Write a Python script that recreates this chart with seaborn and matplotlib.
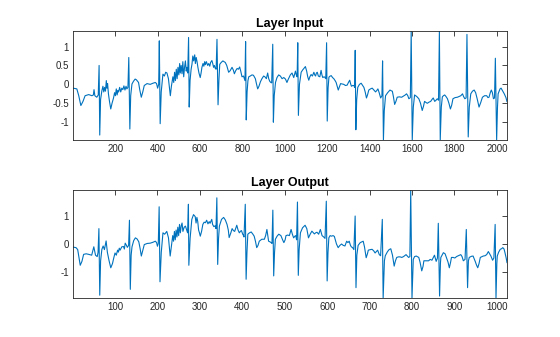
import matplotlib
matplotlib.use("Agg")
import matplotlib.pyplot as plt
import numpy as np
import pandas as pd
import seaborn as sns

# ---- Layer input signal (sample index, amplitude) ----
input_idx = [
    1, 19, 28, 38, 48, 58, 75, 90, 97, 100, 104, 113, 120, 124, 127, 131, 137, 142, 146, 150,
    154, 158, 161, 164, 168, 173, 179, 185, 192, 197, 201, 205, 209, 213, 216, 221, 226, 231, 236, 241,
    246, 251, 255, 260, 264, 269, 273, 279, 286, 294, 300, 310, 316, 323, 330, 337, 350, 365, 378, 389,
    395, 400, 405, 408, 412, 417, 425, 432, 438, 444, 451, 455, 460, 465, 472, 476, 480, 484, 488, 492,
    496, 500, 504, 507, 511, 515, 519, 523, 527, 531, 535, 538, 542, 546, 549, 553, 558, 562, 566, 570,
    575, 578, 582, 586, 590, 595, 601, 605, 609, 614, 618, 622, 625, 630, 636, 641, 646, 650, 656, 660,
    664, 668, 672, 676, 680, 685, 689, 693, 700, 708, 713, 719, 726, 735, 742, 751, 757, 762, 768, 775,
    781, 787, 792, 798, 805, 809, 812, 815, 818, 822, 826, 830, 837, 845, 852, 861, 866, 872, 878, 885,
    892, 900, 906, 913, 919, 924, 929, 934, 938, 943, 946, 950, 956, 963, 971, 979, 987, 995, 1003, 1010,
    1015, 1026, 1034, 1042, 1050, 1054, 1058, 1061, 1064, 1069, 1077, 1084, 1090, 1097, 1103, 1108, 1113, 1118, 1124, 1130,
    1137, 1141, 1145, 1149, 1153, 1158, 1165, 1171, 1175, 1179, 1185, 1188, 1193, 1197, 1200, 1204, 1208, 1214, 1219, 1225,
    1231, 1237, 1242, 1247, 1252, 1258, 1263, 1270, 1278, 1286, 1294, 1300, 1306, 1310, 1314, 1320, 1326, 1329, 1332, 1335,
    1339, 1344, 1352, 1360, 1366, 1373, 1379, 1385, 1390, 1396, 1404, 1412, 1420, 1428, 1434, 1439, 1445, 1452, 1458, 1461,
    1465, 1469, 1475, 1485, 1496, 1502, 1507, 1512, 1518, 1524, 1530, 1540, 1551, 1562, 1568, 1574, 1580, 1585, 1592, 1596,
    1601, 1606, 1612, 1622, 1632, 1640, 1648, 1654, 1659, 1666, 1672, 1680, 1688, 1694, 1700, 1707, 1713, 1719, 1725, 1729,
    1733, 1738, 1743, 1748, 1754, 1760, 1767, 1774, 1781, 1787, 1793, 1803, 1814, 1822, 1830, 1838, 1843, 1849, 1855, 1859,
    1865, 1870, 1877, 1885, 1893, 1900, 1908, 1916, 1924, 1932, 1942, 1952, 1958, 1963, 1969, 1974, 1979, 1984, 1989, 1993,
    1999, 2003, 2006, 2015, 2020, 2026, 2035, 2043, 2048,
]
input_val = [
    -0.10, -0.12, -0.30, -0.56, -0.45, -0.30, -0.27, -0.30, -0.28, -0.14, -0.30, -0.34, -0.28, 0.50, -1.34, -0.40, -0.17, -0.05, -0.20, -0.08,
    -0.18, 0.10, -0.10, 0.02, -0.25, -0.45, -0.65, -0.50, -0.36, -0.22, -0.30, -0.12, -0.28, -0.16, -0.20, -0.08, -0.20, -0.10, -0.14, -0.04,
    -0.15, -0.05, -0.12, -0.08, 0.71, -1.18, -0.30, 0.01, 0.08, 0.14, 0.12, 0.05, -0.15, -0.34, -0.20, -0.03, 0.02, 0.00, 0.03, 0.05,
    0.02, -0.10, 0.00, 1.15, -1.04, -0.20, 0.27, 0.22, 0.32, 0.30, 0.15, -0.05, -0.30, -0.05, 0.20, 0.05, 0.32, 0.10, 0.40, 0.15,
    0.45, 0.25, 0.55, 0.30, 0.50, 0.28, 0.60, 0.20, 0.45, 0.62, 0.35, 0.45, 0.30, 1.24, -0.60, 0.10, 0.40, 0.53, 0.75, 0.62,
    0.78, 0.55, 0.71, 0.60, 0.45, 0.30, 0.18, 0.30, 0.45, 0.55, 0.48, 0.60, 0.52, 0.60, 0.50, 0.55, 0.48, 0.58, 0.63, 0.55,
    0.45, 0.50, 0.42, 0.40, 1.19, -0.54, 0.10, 0.53, 0.58, 0.62, 0.60, 0.58, 0.50, 0.32, 0.36, 0.45, 0.38, 0.28, 0.36, 0.42,
    0.40, 0.46, 0.35, 0.20, 0.22, 0.15, 0.10, 1.13, -0.94, -0.20, 0.10, 0.20, 0.22, 0.25, 0.24, 0.15, 0.02, -0.12, -0.05, 0.07,
    0.15, 0.22, 0.20, 0.15, 0.30, 0.15, 0.08, 0.05, 0.04, 1.06, -1.00, -0.30, 0.05, 0.18, 0.25, 0.22, 0.15, 0.18, 0.14, 0.05,
    0.12, 0.25, 0.30, 0.18, 0.35, 0.25, 0.20, 1.10, -0.82, 0.00, 0.32, 0.38, 0.42, 0.47, 0.35, 0.20, 0.11, 0.20, 0.26, 0.22,
    0.32, 0.25, 0.22, 0.30, 0.32, 0.22, 0.20, 0.37, 0.25, 0.18, 0.20, 0.19, 0.15, 1.10, -0.97, -0.10, 0.19, 0.22, 0.23, 0.18,
    0.15, 0.10, 0.05, -0.05, -0.15, -0.06, 0.02, 0.01, 0.00, -0.03, -0.02, 0.05, 0.11, 0.02, -0.05, -0.03, -0.03, -0.08, 0.90, -1.20,
    -0.40, -0.08, 0.00, 0.03, -0.02, -0.08, -0.20, -0.36, -0.28, -0.15, -0.12, -0.10, -0.15, -0.20, -0.16, -0.12, -0.22, -0.36, -0.30, 0.62,
    -1.47, -0.70, -0.30, -0.22, -0.15, -0.17, -0.18, -0.32, -0.53, -0.45, -0.34, -0.33, -0.34, -0.30, -0.28, -0.25, -0.30, -0.38, -0.35, 1.41,
    -1.47, -0.60, -0.28, -0.32, -0.38, -0.50, -0.69, -0.58, -0.45, -0.48, -0.50, -0.47, -0.45, -0.40, -0.36, -0.45, -0.42, -0.38, -0.42, 1.41,
    -1.47, -0.60, -0.33, -0.30, -0.28, -0.32, -0.38, -0.50, -0.65, -0.55, -0.38, -0.35, -0.34, -0.32, -0.30, -0.25, -0.32, -0.38, -0.36, 1.32,
    -1.39, -0.60, -0.25, -0.18, -0.15, -0.22, -0.40, -0.60, -0.48, -0.34, -0.30, -0.30, -0.35, -0.34, -0.22, -0.15, -0.22, -0.38, -0.36, 0.69,
    -1.47, -0.60, -0.25, -0.12, -0.10, -0.16, -0.25, -0.35, -0.46,
]

# ---- Layer output signal (sample index, amplitude) ----
output_idx = [
    1, 8, 12, 18, 22, 26, 32, 38, 45, 50, 54, 58, 60, 62, 64, 66, 69, 72, 75, 79,
    82, 86, 90, 94, 97, 100, 103, 106, 108, 110, 112, 116, 120, 122, 124, 127, 129, 132, 134, 136,
    138, 140, 144, 148, 152, 156, 159, 162, 165, 169, 176, 183, 189, 195, 198, 200, 202, 204, 206, 209,
    213, 217, 222, 226, 228, 230, 233, 236, 238, 240, 242, 244, 246, 248, 250, 252, 254, 256, 258, 260,
    263, 266, 269, 271, 273, 274, 277, 281, 285, 289, 291, 293, 295, 297, 299, 301, 304, 307, 310, 313,
    316, 319, 322, 324, 328, 330, 333, 336, 338, 340, 342, 344, 346, 351, 356, 360, 364, 367, 369, 373,
    376, 379, 382, 385, 387, 390, 393, 396, 398, 401, 403, 404, 407, 409, 411, 413, 417, 421, 425, 428,
    431, 434, 437, 440, 446, 452, 455, 458, 460, 462, 465, 468, 470, 472, 474, 476, 478, 482, 486, 491,
    495, 498, 501, 503, 507, 511, 515, 518, 521, 524, 526, 528, 530, 532, 534, 537, 542, 548, 552, 556,
    560, 564, 570, 573, 576, 580, 584, 588, 592, 595, 598, 600, 602, 604, 607, 610, 614, 617, 620, 622,
    626, 630, 634, 638, 642, 646, 649, 652, 655, 657, 660, 663, 666, 668, 670, 673, 678, 685, 688, 692,
    695, 697, 702, 706, 710, 713, 719, 723, 726, 730, 732, 735, 737, 742, 746, 750, 754, 758, 761, 764,
    768, 772, 776, 780, 786, 792, 795, 797, 800, 803, 806, 810, 816, 819, 823, 826, 828, 833, 839, 843,
    847, 853, 857, 860, 862, 865, 867, 868, 874, 878, 881, 885, 888, 891, 893, 897, 901, 905, 909, 915,
    918, 921, 925, 928, 931, 933, 935, 940, 944, 949, 952, 955, 958, 961, 965, 968, 972, 976, 980, 983,
    986, 990, 993, 996, 998, 1000, 1001, 1004, 1008, 1011, 1014, 1017, 1019, 1022, 1024,
]
output_val = [
    -0.11, -0.13, -0.20, -0.76, -0.62, -0.37, -0.35, -0.37, -0.40, -0.10, -0.40, -0.45, -0.30, 0.55, -1.83, -0.60, -0.19, -0.07, -0.20, 0.11,
    -0.30, -0.60, -0.85, -0.70, -0.50, -0.32, -0.40, -0.22, -0.29, -0.15, -0.22, -0.10, -0.09, -0.18, 0.03, -0.05, -0.12, -0.05, 0.85, -1.62,
    -0.40, -0.10, 0.12, 0.22, 0.18, 0.08, -0.15, -0.43, -0.25, -0.02, 0.02, 0.03, 0.06, 0.10, 0.05, -0.08, 0.02, 1.33, -1.35, -0.30,
    0.40, 0.35, 0.45, 0.22, -0.10, -0.43, -0.05, 0.30, 0.10, 0.45, 0.15, 0.50, 0.25, 0.60, 0.30, 0.70, 0.40, 0.65, 0.75, 0.45,
    0.60, 0.64, 0.50, 0.40, 1.42, -0.76, 0.20, 0.88, 1.05, 0.98, 0.75, 0.95, 0.80, 0.50, 0.40, 0.28, 0.45, 0.70, 0.78, 0.76,
    0.85, 0.72, 0.80, 0.74, 0.88, 0.70, 0.62, 0.65, 0.55, 1.65, -0.73, 0.20, 0.64, 0.88, 0.95, 0.86, 0.70, 0.50, 0.23, 0.40,
    0.55, 0.48, 0.45, 0.58, 0.67, 0.50, 0.40, 0.46, 0.48, 0.35, 0.30, 0.25, 1.42, -1.26, -0.30, 0.35, 0.40, 0.43, 0.35, 0.28,
    0.10, -0.13, -0.05, 0.10, 0.17, 0.17, 0.30, 0.52, 0.30, 0.10, 0.08, 0.05, 0.02, 1.21, -1.14, -0.30, 0.17, 0.28, 0.35, 0.30,
    0.15, 0.05, 0.15, 0.30, 0.32, 0.30, 0.52, 0.35, 0.22, 0.28, 0.30, 0.15, 1.50, -1.12, -0.20, 0.40, 0.58, 0.67, 0.55, 0.22,
    0.35, 0.46, 0.36, 0.40, 0.42, 0.35, 0.52, 0.30, 0.25, 0.20, 1.53, -1.32, -0.30, 0.22, 0.30, 0.28, 0.30, 0.27, 0.10, 0.00,
    -0.13, -0.05, 0.00, -0.05, -0.07, 0.10, 0.05, 0.10, -0.05, -0.10, -0.13, -0.20, 1.00, -1.56, -0.40, -0.05, 0.05, 0.10, -0.10, -0.49,
    -0.35, -0.22, -0.20, -0.19, -0.25, -0.32, -0.22, -0.38, -0.42, 0.88, -1.93, -0.60, -0.42, -0.28, -0.20, -0.17, -0.40, -0.79, -0.60, -0.48,
    -0.46, -0.46, -0.48, -0.45, -0.38, -0.48, -0.45, 1.93, -1.93, -0.55, -0.45, -0.43, -0.48, -0.65, -0.96, -0.80, -0.60, -0.60, -0.60, -0.55,
    -0.58, -0.40, -0.62, -0.50, 0.74, -1.86, -0.70, -0.48, -0.31, -0.35, -0.48, -0.65, -0.85, -0.65, -0.48, -0.48, -0.50, -0.45, -0.42, -0.38,
    -0.45, -0.60, -0.55, 0.52, -1.56, -0.60, -0.48, -0.44, -0.43, -0.62, -0.75, -0.85, -0.70, -0.48, -0.45, -0.43, -0.42, -0.38, -0.27, -0.35,
    -0.43, -0.58, -0.50, 0.70, -1.93, -0.70, -0.43, -0.30, -0.19, -0.17, -0.13, -0.18, -0.30, -0.50, -0.67,
]

titles = ["Layer Input", "Layer Output"]
input_xticks = [200, 400, 600, 800, 1000, 1200, 1400, 1600, 1800, 2000]
input_yticks = [-1, -0.5, 0, 0.5, 1]
input_yticklabels = ["-1", "-0.5", "0", "0.5", "1"]
output_xticks = [100, 200, 300, 400, 500, 600, 700, 800, 900, 1000]
output_yticks = [-1, 0, 1]
output_yticklabels = ["-1", "0", "1"]

sns.set_style("white")
plt.rcParams["font.family"] = ["Liberation Sans", "DejaVu Sans"]

AX_COLOR = "#262626"
LINE_COLOR = "#0072BD"

fig = plt.figure(figsize=(5.6, 3.37), dpi=100)
ax_in = fig.add_axes([0.1304, 0.5846, 0.775, 0.3234])
ax_out = fig.add_axes([0.1304, 0.1157, 0.775, 0.3205])

panels = [
    (ax_in, input_idx, input_val, titles[0], input_xticks, input_yticks, input_yticklabels, 2048),
    (ax_out, output_idx, output_val, titles[1], output_xticks, output_yticks, output_yticklabels, 1024),
]

for ax, xs, ys, title, xt, yt, ytl, n in panels:
    df = pd.DataFrame({"sample": xs, "value": ys})
    sns.lineplot(data=df, x="sample", y="value", ax=ax, color=LINE_COLOR,
                 linewidth=0.8, estimator=None, sort=False)
    ax.set_xlim(1, n)
    ax.set_ylim(min(ys), max(ys))
    ax.set_xticks(xt)
    ax.set_xticklabels([str(v) for v in xt])
    ax.set_yticks(yt)
    ax.set_yticklabels(ytl)
    ax.set_xlabel("")
    ax.set_ylabel("")
    ax.set_title(title, fontsize=9, fontweight="bold", color="black", pad=3)
    ax.tick_params(axis="both", which="both", direction="in", length=3.5, width=0.6,
                   colors=AX_COLOR, labelsize=7, top=True, right=True, pad=3)
    for sp in ax.spines.values():
        sp.set_visible(True)
        sp.set_color(AX_COLOR)
        sp.set_linewidth(0.6)

fig.savefig("out.png", dpi=100, facecolor="white")
